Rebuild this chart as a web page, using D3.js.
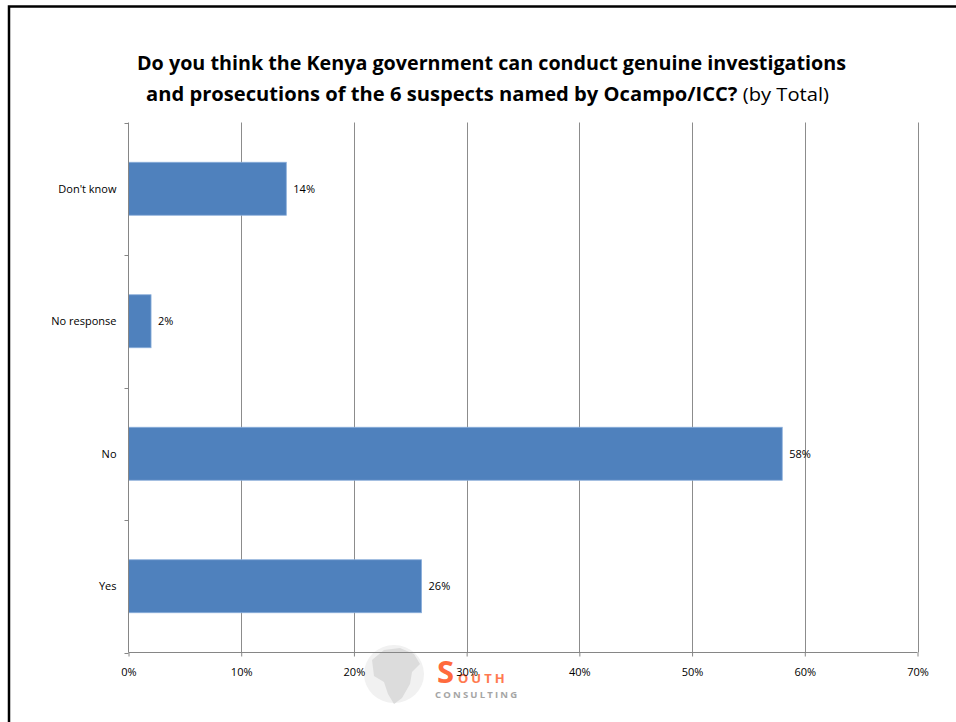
<!DOCTYPE html>
<html><head><meta charset="utf-8">
<script src="https://cdn.jsdelivr.net/npm/d3@7"></script>
<style>
html,body{margin:0;padding:0;background:#fff;}
svg{display:block;}
text{font-family:"Open Sans","Noto Sans",sans-serif;fill:#000;}
</style></head>
<body>
<script>
const categories = ["Don't know", "No response", "No", "Yes"];
const values = [14, 2, 58, 26];
const tickValues = [0, 10, 20, 30, 40, 50, 60, 70];
const titleLine1 = "Do you think the Kenya government can conduct genuine investigations";
const titleLine2Bold = "and prosecutions of the 6 suspects named by Ocampo/ICC?";
const titleLine2Normal = " (by Total)";

(function(){
const W = 956, H = 722;
const svg = d3.select("body").append("svg").attr("width", W).attr("height", H);
svg.append("rect").attr("width", W).attr("height", H).attr("fill", "#fff");

// frame
svg.append("path").attr("d", `M9,${H+5} L9,6.5 L${W+5},6.5`).attr("fill","none").attr("stroke","#000").attr("stroke-width",2.5);

const pL = 128.5, pR = 917.5, pT = 122.5, pB = 652.5;
const x = d3.scaleLinear().domain([0, 70]).range([pL, pR]);
const y = d3.scaleBand().domain(categories).range([pT, pB]).paddingInner(0.6).paddingOuter(0.3);

// gridlines
svg.append("g").selectAll("line").data(tickValues.slice(1)).join("line")
  .attr("x1", d => Math.round(x(d)) + 0.5).attr("x2", d => Math.round(x(d)) + 0.5)
  .attr("y1", pT).attr("y2", pB)
  .attr("stroke", "#8c8c8c").attr("stroke-width", 1);

// bars
svg.append("g").selectAll("rect").data(categories).join("rect")
  .attr("x", x(0)).attr("y", d => y(d))
  .attr("width", (d, i) => x(values[i]) - x(0))
  .attr("height", y.bandwidth())
  .attr("fill", "#4f81bd").attr("stroke", "#8aaedb").attr("stroke-width", 0.8);

// value labels
svg.append("g").selectAll("text").data(categories).join("text")
  .attr("x", (d, i) => x(values[i]) + 7)
  .attr("y", d => y(d) + y.bandwidth() / 2)
  .attr("dy", "0.35em").attr("font-size", 11)
  .text((d, i) => values[i] + "%");

// watermark logo
const logo = svg.append("g");
logo.append("ellipse").attr("cx", 394).attr("cy", 674).attr("rx", 30).attr("ry", 29).attr("fill", "#f1f1f1");
logo.append("path").attr("d", "M372,660 L384,650 L400,648 L414,654 L420,664 L412,672 L410,684 L402,698 L394,704 L388,694 L384,682 L374,676 Z").attr("fill", "#dcdcdc");
logo.append("text").attr("x", 437).attr("y", 683).attr("font-size", 31).attr("font-weight", "bold")
  .style("fill", "#ff6a3d").text("S");
logo.append("text").attr("x", 458).attr("y", 683).attr("font-size", 13).attr("font-weight", "bold")
  .style("fill", "#ff7a50").attr("letter-spacing", 3).text("OUTH");
logo.append("text").attr("x", 435).attr("y", 698).attr("font-size", 9.5).attr("font-weight", "bold")
  .style("fill", "#a5a5a5").attr("letter-spacing", 2.2).text("CONSULTING");

// x axis
const xAxis = d3.axisBottom(x).tickValues(tickValues).tickFormat(d => d + "%").tickSize(4).tickPadding(12);
const gx = svg.append("g").attr("transform", `translate(0,${pB})`).call(xAxis);
gx.select(".domain").attr("stroke", "#868686").attr("d", `M${pL},0H${pR}`);
gx.selectAll(".tick line").attr("stroke", "#868686");
gx.selectAll(".tick text").attr("font-size", 11).attr("fill", "#000")
  .style("font-family", '"Open Sans","Noto Sans",sans-serif');

// y axis with boundary ticks
const gy = svg.append("g");
gy.append("line").attr("x1", pL).attr("x2", pL).attr("y1", pT).attr("y2", pB).attr("stroke", "#868686");
const bounds = d3.range(categories.length + 1).map(i => pT + i * (pB - pT) / categories.length);
gy.selectAll("line.t").data(bounds).join("line").attr("class","t")
  .attr("x1", pL - 4).attr("x2", pL).attr("y1", d => Math.round(d) + 0.5).attr("y2", d => Math.round(d) + 0.5)
  .attr("stroke", "#868686");
svg.append("g").selectAll("text").data(categories).join("text")
  .attr("x", pL - 12).attr("y", d => y(d) + y.bandwidth() / 2)
  .attr("dy", "0.35em").attr("text-anchor", "end").attr("font-size", 11)
  .text(d => d);

// title
svg.append("text").attr("x", 491.5).attr("y", 70).attr("text-anchor", "middle")
  .attr("font-size", 19).attr("font-weight", "bold")
  .attr("textLength", 709).attr("lengthAdjust", "spacingAndGlyphs")
  .text(titleLine1);
const t2 = svg.append("text").attr("x", 487.5).attr("y", 101).attr("text-anchor", "middle")
  .attr("font-size", 19).attr("textLength", 683).attr("lengthAdjust", "spacingAndGlyphs");
t2.append("tspan").attr("font-weight", "bold").text(titleLine2Bold);
t2.append("tspan").attr("font-weight", "normal").text(titleLine2Normal);
})();
</script>
</body></html>
